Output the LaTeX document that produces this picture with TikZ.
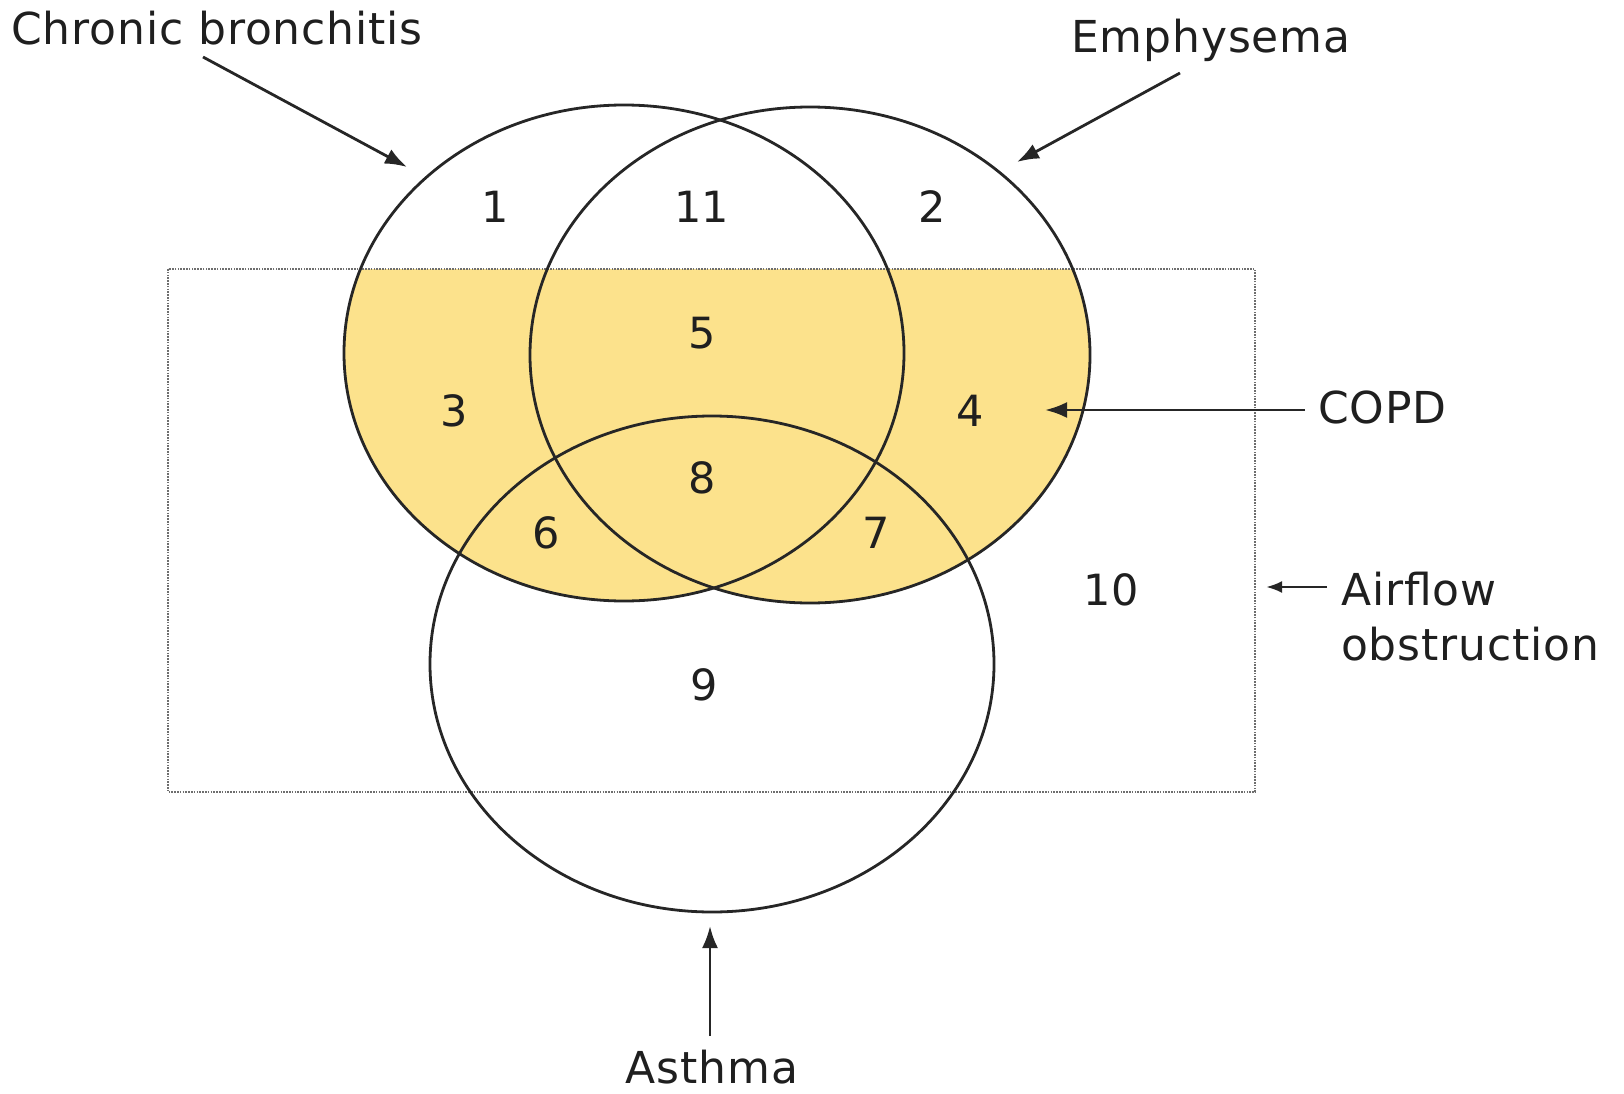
\documentclass[tikz,border=0pt]{standalone}
\usepackage{fontspec}
\setmainfont{DejaVu Sans}
\newfontfamily\lblfont[LetterSpace=2]{DejaVu Sans}
\usetikzlibrary{arrows.meta}
\definecolor{copdyellow}{RGB}{252,226,140}
\definecolor{boxgray}{RGB}{110,110,110}
\begin{document}
\begin{tikzpicture}[x=1pt,y=-1pt,
  lbl/.style={font=\lblfont\fontsize{44}{52}\selectfont, inner sep=0pt, text=black!88},
  num/.style={font=\fontsize{43}{52}\selectfont, inner sep=0pt, text=black!88},
  setline/.style={line width=2.8pt, black!85},
  arr/.style={line width=2.8pt, black!85, -{Latex[length=22pt,width=16pt]}},
  box/.style={line width=2pt, boxgray, dash pattern=on 1.6pt off 1.2pt}]
\useasboundingbox (0,0) rectangle (1624,1094);
% yellow COPD area
\begin{scope}
  \clip (168,269) rectangle (1255,792);
  \fill[copdyellow] (624,353) ellipse [x radius=280pt, y radius=248pt];
  \fill[copdyellow] (810,355) ellipse [x radius=280pt, y radius=248pt];
\end{scope}
% airflow obstruction box
\draw[box] (168,269) rectangle (1255,792);
% sets
\draw[setline] (624,353) ellipse [x radius=280pt, y radius=248pt];
\draw[setline] (810,355) ellipse [x radius=280pt, y radius=248pt];
\draw[setline] (712,664) ellipse [x radius=282pt, y radius=248pt];
% region numbers
\node[num] (n1) at (495,207) {1};
\node[num] (n11) at (702,207) {11};
\node[num] (n2) at (932,207) {2};
\node[num] (n5) at (702,333) {5};
\node[num] (n3) at (454,411) {3};
\node[num] (n4) at (970,411) {4};
\node[num] (n8) at (702,478) {8};
\node[num] (n6) at (546,533) {6};
\node[num] (n7) at (876,533) {7};
\node[num] (n9) at (704,685) {9};
\node[num] (n10) at (1111,590) {10};
% labels
\node[lbl, anchor=base west] (cb) at (11,45) {Chronic bronchitis};
\node[lbl, anchor=base west] (em) at (1071,53) {Emphysema};
\node[lbl, anchor=base west] (copd) at (1318,423) {COPD};
\node[lbl, anchor=base west] (af1) at (1341,605) {Airflow};
\node[lbl, anchor=base west] (af2) at (1341,660) {obstruction};
\node[lbl, anchor=base] (as) at (712,1083) {Asthma};
% arrows
\coordinate (cbs) at (203,57);
\coordinate (cbt) at (407,167);
\coordinate (ems) at (1180,73);
\coordinate (emt) at (1017,162);
\coordinate (cos) at (1305,410);
\coordinate (cot) at (1045,410);
\coordinate (afs) at (1327,587);
\coordinate (aft) at (1266,587);
\coordinate (ass) at (710,1036);
\coordinate (ast) at (710,926);
\draw[arr] (cbs) -- (cbt);
\draw[arr] (ems) -- (emt);
\draw[arr] (cos) -- (cot);
\draw[arr, -{Latex[length=16pt,width=12pt]}] (afs) -- (aft);
\draw[arr] (ass) -- (ast);
\end{tikzpicture}
\end{document}
